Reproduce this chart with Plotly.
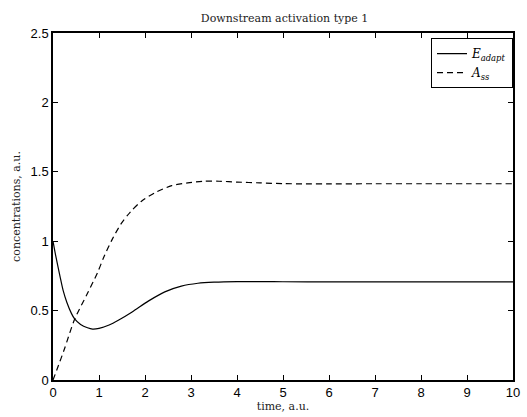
import plotly.graph_objects as go

t_E = [0, 0.05, 0.1, 0.15, 0.22, 0.3, 0.4, 0.47, 0.6, 0.75, 0.86, 1.0, 1.22, 1.43, 1.72, 2.08, 2.43, 2.79, 3.15, 3.5, 4.0, 4.5, 5.0, 6.0, 7.0, 8.0, 9.0, 10.0]
E_adapt = [1.0, 0.91, 0.83, 0.75, 0.645, 0.56, 0.48, 0.44, 0.40, 0.376, 0.367, 0.372, 0.396, 0.432, 0.49, 0.57, 0.635, 0.676, 0.697, 0.705, 0.709, 0.709, 0.708, 0.707, 0.707, 0.707, 0.707, 0.707]

t_A = [0, 0.08, 0.25, 0.47, 0.75, 0.97, 1.11, 1.29, 1.47, 1.68, 1.93, 2.22, 2.58, 2.93, 3.29, 3.61, 4.0, 4.5, 5.0, 5.5, 6.0, 7.0, 8.0, 9.0, 10.0]
A_ss = [0.0, 0.07, 0.225, 0.437, 0.625, 0.775, 0.89, 1.015, 1.12, 1.21, 1.29, 1.35, 1.40, 1.42, 1.432, 1.432, 1.426, 1.42, 1.415, 1.413, 1.413, 1.414, 1.414, 1.414, 1.414]

x_ticks = list(range(0, 11))
y_ticks = [0, 0.5, 1, 1.5, 2, 2.5]
y_tick_labels = ["0", "0.5", "1", "1.5", "2", "2.5"]

title_text = "Downstream activation type 1"
x_label = "time, a.u."
y_label = "concentrations, a.u."

serif = "DejaVu Serif, Liberation Serif, serif"

fig = go.Figure()
fig.add_trace(go.Scatter(x=t_E, y=E_adapt, mode="lines", line=dict(color="black", width=1.2, shape="spline", smoothing=0.8),
                         name="<i>E</i><sub><i>adapt</i></sub>"))
fig.add_trace(go.Scatter(x=t_A, y=A_ss, mode="lines", line=dict(color="black", width=1.2, dash="6px,4px", shape="spline", smoothing=0.8),
                         name="<i>A</i><sub><i>ss</i></sub>"))

axis_common = dict(showgrid=False, zeroline=False, showline=True, linecolor="black", linewidth=1.5,
                   mirror="ticks", ticks="inside", ticklen=5, tickcolor="black", tickwidth=1,
                   tickfont=dict(family="Liberation Sans, Arial, sans-serif", size=13, color="black"))

fig.update_layout(
    width=527, height=417,
    margin=dict(l=53, r=7, t=33, b=35),
    paper_bgcolor="white", plot_bgcolor="white",
    title=dict(text=title_text, x=0.54, xanchor="center", y=0.957, yanchor="middle",
               font=dict(family=serif, size=11, color="#222")),
    xaxis=dict(range=[0, 10], tickvals=x_ticks, ticktext=[str(v) for v in x_ticks],
               title=dict(text=x_label, standoff=2, font=dict(family=serif, size=11, color="#222")),
               **axis_common),
    yaxis=dict(range=[0, 2.5], tickvals=y_ticks, ticktext=y_tick_labels,
               title=dict(text=y_label, standoff=8, font=dict(family=serif, size=11, color="#222")),
               **axis_common),
    legend=dict(x=1.0, y=0.985, xanchor="right", yanchor="top", bgcolor="white",
                bordercolor="black", borderwidth=1,
                font=dict(family=serif, size=12, color="black"),
                tracegroupgap=0, itemwidth=30),
    showlegend=True,
)

fig.write_html("out.html")
